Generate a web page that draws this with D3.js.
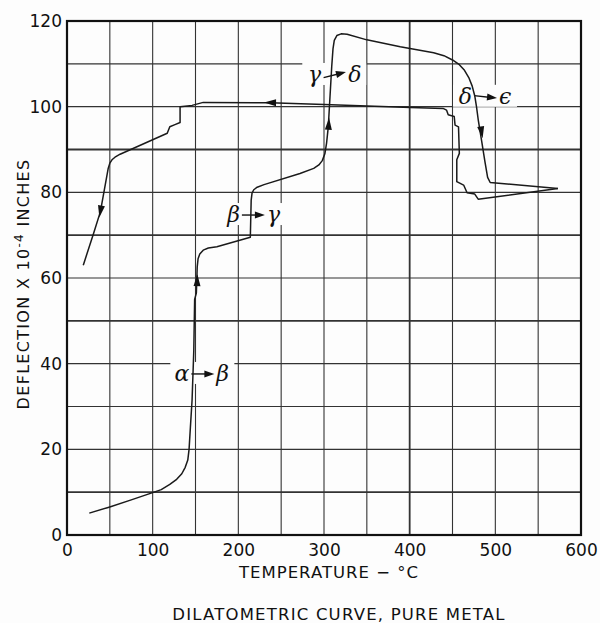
<!DOCTYPE html>
<html>
<head>
<meta charset="utf-8">
<script src="https://cdn.jsdelivr.net/npm/d3@7"></script>
<style>
  body { margin: 0; background: #fdfdfd; }
  svg { display: block; }
</style>
</head>
<body>
<div id="chart"></div>
<script>
// heating run (temperature, deflection), ends at the tip of the loop
var heatT = [26, 49, 75, 100, 110, 120, 128, 134, 138, 141, 142.5, 144, 146, 148, 149, 151, 152, 153, 155, 159, 165, 175, 214, 215, 216, 218, 222, 230, 272, 288, 294, 298, 301, 303, 305, 309, 310.5, 312, 315, 320, 327, 350, 389, 428, 440, 450, 458, 464, 469, 473, 476, 478, 480, 484, 488, 491, 494, 573];
var heatD = [5.1, 6.5, 8.2, 9.9, 10.6, 11.8, 13, 14.3, 15.8, 17.5, 20, 25, 31.5, 43, 55, 56.5, 62.6, 64.5, 65.6, 66.5, 67, 67.3, 69.5, 78.2, 79.8, 80.6, 81.2, 81.8, 84.4, 85.6, 86.4, 87.4, 89, 91.5, 95.3, 109.3, 113.5, 115.5, 116.6, 117, 116.9, 115.6, 114, 112.6, 111.9, 110.9, 109.8, 108.5, 106.8, 104.8, 102.5, 100, 97, 92, 87, 83.5, 82.3, 80.9];

// cooling run, starts at the tip and goes back down
var coolT = [573, 480, 476, 467, 463, 455, 455, 458, 457, 453, 452, 445, 443, 439, 401, 300, 237, 159, 146, 132, 132, 126, 120, 117, 62, 56, 52.5, 50, 48, 39, 31, 19];
var coolD = [80.9, 78.4, 79.6, 79.9, 81.7, 82.5, 87.6, 89.1, 95.3, 95.7, 97.7, 98.1, 99.2, 99.6, 99.8, 100.5, 100.9, 101.0, 100.3, 100, 96.3, 95.8, 95.3, 93.8, 88.9, 88.2, 87.6, 86.8, 85.5, 75.5, 70.4, 63];

// arrowheads on the curve
var arrowSeries = ["heat", "heat", "heat", "cool", "cool"];
var arrowT = [152, 305.5, 484, 237, 39];
var arrowD = [59.5, 96, 94, 100.95, 75.5];

// transition labels
var transFrom = ["α", "β", "γ", "δ"];
var transTo = ["β", "γ", "δ", "ϵ"];
var transT = [158, 217, 312, 488];
var transD = [37.6, 74.7, 107.4, 102.3];
var transTilt = [0, 0, -14, 6];

var xTicks = [0, 100, 200, 300, 400, 500, 600];
var yTicks = [0, 20, 40, 60, 80, 100, 120];
var xGrid = d3.range(0, 601, 50);
var yGrid = d3.range(0, 121, 10);
var heavyY = [10, 50, 70, 90];
var heavyX = [400];

var W = 600, H = 623;
var margin = {top: 21, right: 19, bottom: 88, left: 67};
var width = W - margin.left - margin.right,
    height = H - margin.top - margin.bottom;

var svg = d3.select("#chart").append("svg")
    .attr("width", W)
    .attr("height", H)
    .style("font-family", "'DejaVu Sans', sans-serif");

var g = svg.append("g")
    .attr("transform", "translate(" + margin.left + "," + margin.top + ")");

var x = d3.scaleLinear().domain([0, 600]).range([0, width]);
var y = d3.scaleLinear().domain([0, 120]).range([height, 0]);

// grid
g.selectAll(".vgrid").data(xGrid).enter().append("line")
    .attr("x1", function(d) { return x(d); })
    .attr("x2", function(d) { return x(d); })
    .attr("y1", 0).attr("y2", height)
    .attr("stroke", "#333")
    .attr("stroke-width", function(d) { return heavyX.indexOf(d) >= 0 ? 1.8 : 1.1; });

g.selectAll(".hgrid").data(yGrid).enter().append("line")
    .attr("x1", 0).attr("x2", width)
    .attr("y1", function(d) { return y(d); })
    .attr("y2", function(d) { return y(d); })
    .attr("stroke", "#333")
    .attr("stroke-width", function(d) { return heavyY.indexOf(d) >= 0 ? 1.9 : 1.1; });

g.append("rect")
    .attr("width", width).attr("height", height)
    .attr("fill", "none").attr("stroke", "#111").attr("stroke-width", 2.2);

// axes (labels only)
var xAxis = g.append("g")
    .attr("transform", "translate(0," + height + ")")
    .call(d3.axisBottom(x).tickValues(xTicks).tickSize(0).tickPadding(9).tickFormat(d3.format("d")));
xAxis.select(".domain").remove();
xAxis.selectAll("text").attr("font-size", 17).attr("fill", "#111")
    .attr("font-family", "'DejaVu Sans', sans-serif");

var yAxis = g.append("g")
    .call(d3.axisLeft(y).tickValues(yTicks).tickSize(0).tickPadding(5).tickFormat(d3.format("d")));
yAxis.select(".domain").remove();
yAxis.selectAll("text").attr("font-size", 17).attr("fill", "#111")
    .attr("font-family", "'DejaVu Sans', sans-serif");

// axis titles
svg.append("text")
    .attr("x", 329).attr("y", 578)
    .attr("text-anchor", "middle")
    .attr("font-size", 16.5).attr("fill", "#111")
    .attr("letter-spacing", 1)
    .text("TEMPERATURE − °C");

var yt = svg.append("text")
    .attr("transform", "translate(29,284) rotate(-90)")
    .attr("text-anchor", "middle")
    .attr("font-size", 16).attr("fill", "#111")
    .attr("letter-spacing", 1.3);
yt.append("tspan").text("DEFLECTION X 10");
yt.append("tspan").attr("dy", -6).attr("font-size", 12).text("-4");
yt.append("tspan").attr("dy", 6).text(" INCHES");

svg.append("text")
    .attr("x", 339).attr("y", 620)
    .attr("text-anchor", "middle")
    .attr("font-size", 16.5).attr("fill", "#111")
    .attr("letter-spacing", 1.2)
    .text("DILATOMETRIC CURVE, PURE METAL");

// transition labels (drawn under the curve)
transFrom.forEach(function(a, i) {
    var cx = x(transT[i]), cy = y(transD[i]);
    var lg = g.append("g")
        .attr("transform", "translate(" + cx + "," + cy + ")");
    lg.append("rect")
        .attr("x", -32).attr("y", -12).attr("width", 64).attr("height", 22)
        .attr("fill", "#fdfdfd");
    lg.append("text")
        .attr("x", -13).attr("y", 7)
        .attr("text-anchor", "end")
        .attr("font-family", "'DejaVu Serif', serif")
        .attr("font-style", "italic")
        .attr("font-size", 22).attr("fill", "#111")
        .text(a);
    lg.append("text")
        .attr("x", 14).attr("y", 7)
        .attr("text-anchor", "start")
        .attr("font-family", "'DejaVu Serif', serif")
        .attr("font-style", "italic")
        .attr("font-size", 22).attr("fill", "#111")
        .text(transTo[i]);
    var ag = lg.append("g").attr("transform", "rotate(" + transTilt[i] + ")");
    ag.append("line")
        .attr("x1", -11).attr("x2", 6).attr("y1", 0).attr("y2", 0)
        .attr("stroke", "#111").attr("stroke-width", 1.4);
    ag.append("path")
        .attr("d", "M12,0 L2,-3.5 L2,3.5 Z")
        .attr("fill", "#111");
});

// curve
var heat = heatT.map(function(t, i) { return [t, heatD[i]]; });
var cool = coolT.map(function(t, i) { return [t, coolD[i]]; });

var line = d3.line()
    .x(function(d) { return x(d[0]); })
    .y(function(d) { return y(d[1]); });

[heat, cool].forEach(function(s) {
    g.append("path")
        .datum(s)
        .attr("d", line)
        .attr("fill", "none")
        .attr("stroke", "#1a1a1a")
        .attr("stroke-width", 1.5)
        .attr("stroke-linejoin", "round");
});

// arrowheads, direction taken from nearest segment of the series
function segAngle(s, px, py) {
    var best = Infinity, ang = 0;
    for (var i = 0; i < s.length - 1; i++) {
        var ax = x(s[i][0]), ay = y(s[i][1]), bx = x(s[i + 1][0]), by = y(s[i + 1][1]);
        var dx = bx - ax, dy = by - ay, L = dx * dx + dy * dy;
        var u = L ? Math.max(0, Math.min(1, ((px - ax) * dx + (py - ay) * dy) / L)) : 0;
        var qx = ax + u * dx - px, qy = ay + u * dy - py, dist = qx * qx + qy * qy;
        if (dist < best) { best = dist; ang = Math.atan2(dy, dx) * 180 / Math.PI; }
    }
    return ang;
}

arrowT.forEach(function(t, i) {
    var s = arrowSeries[i] === "heat" ? heat : cool;
    var px = x(t), py = y(arrowD[i]);
    g.append("path")
        .attr("d", "M6,0 L-6,-3.5 L-6,3.5 Z")
        .attr("fill", "#111")
        .attr("transform", "translate(" + px + "," + py + ") rotate(" + segAngle(s, px, py) + ")");
});
</script>
</body>
</html>
